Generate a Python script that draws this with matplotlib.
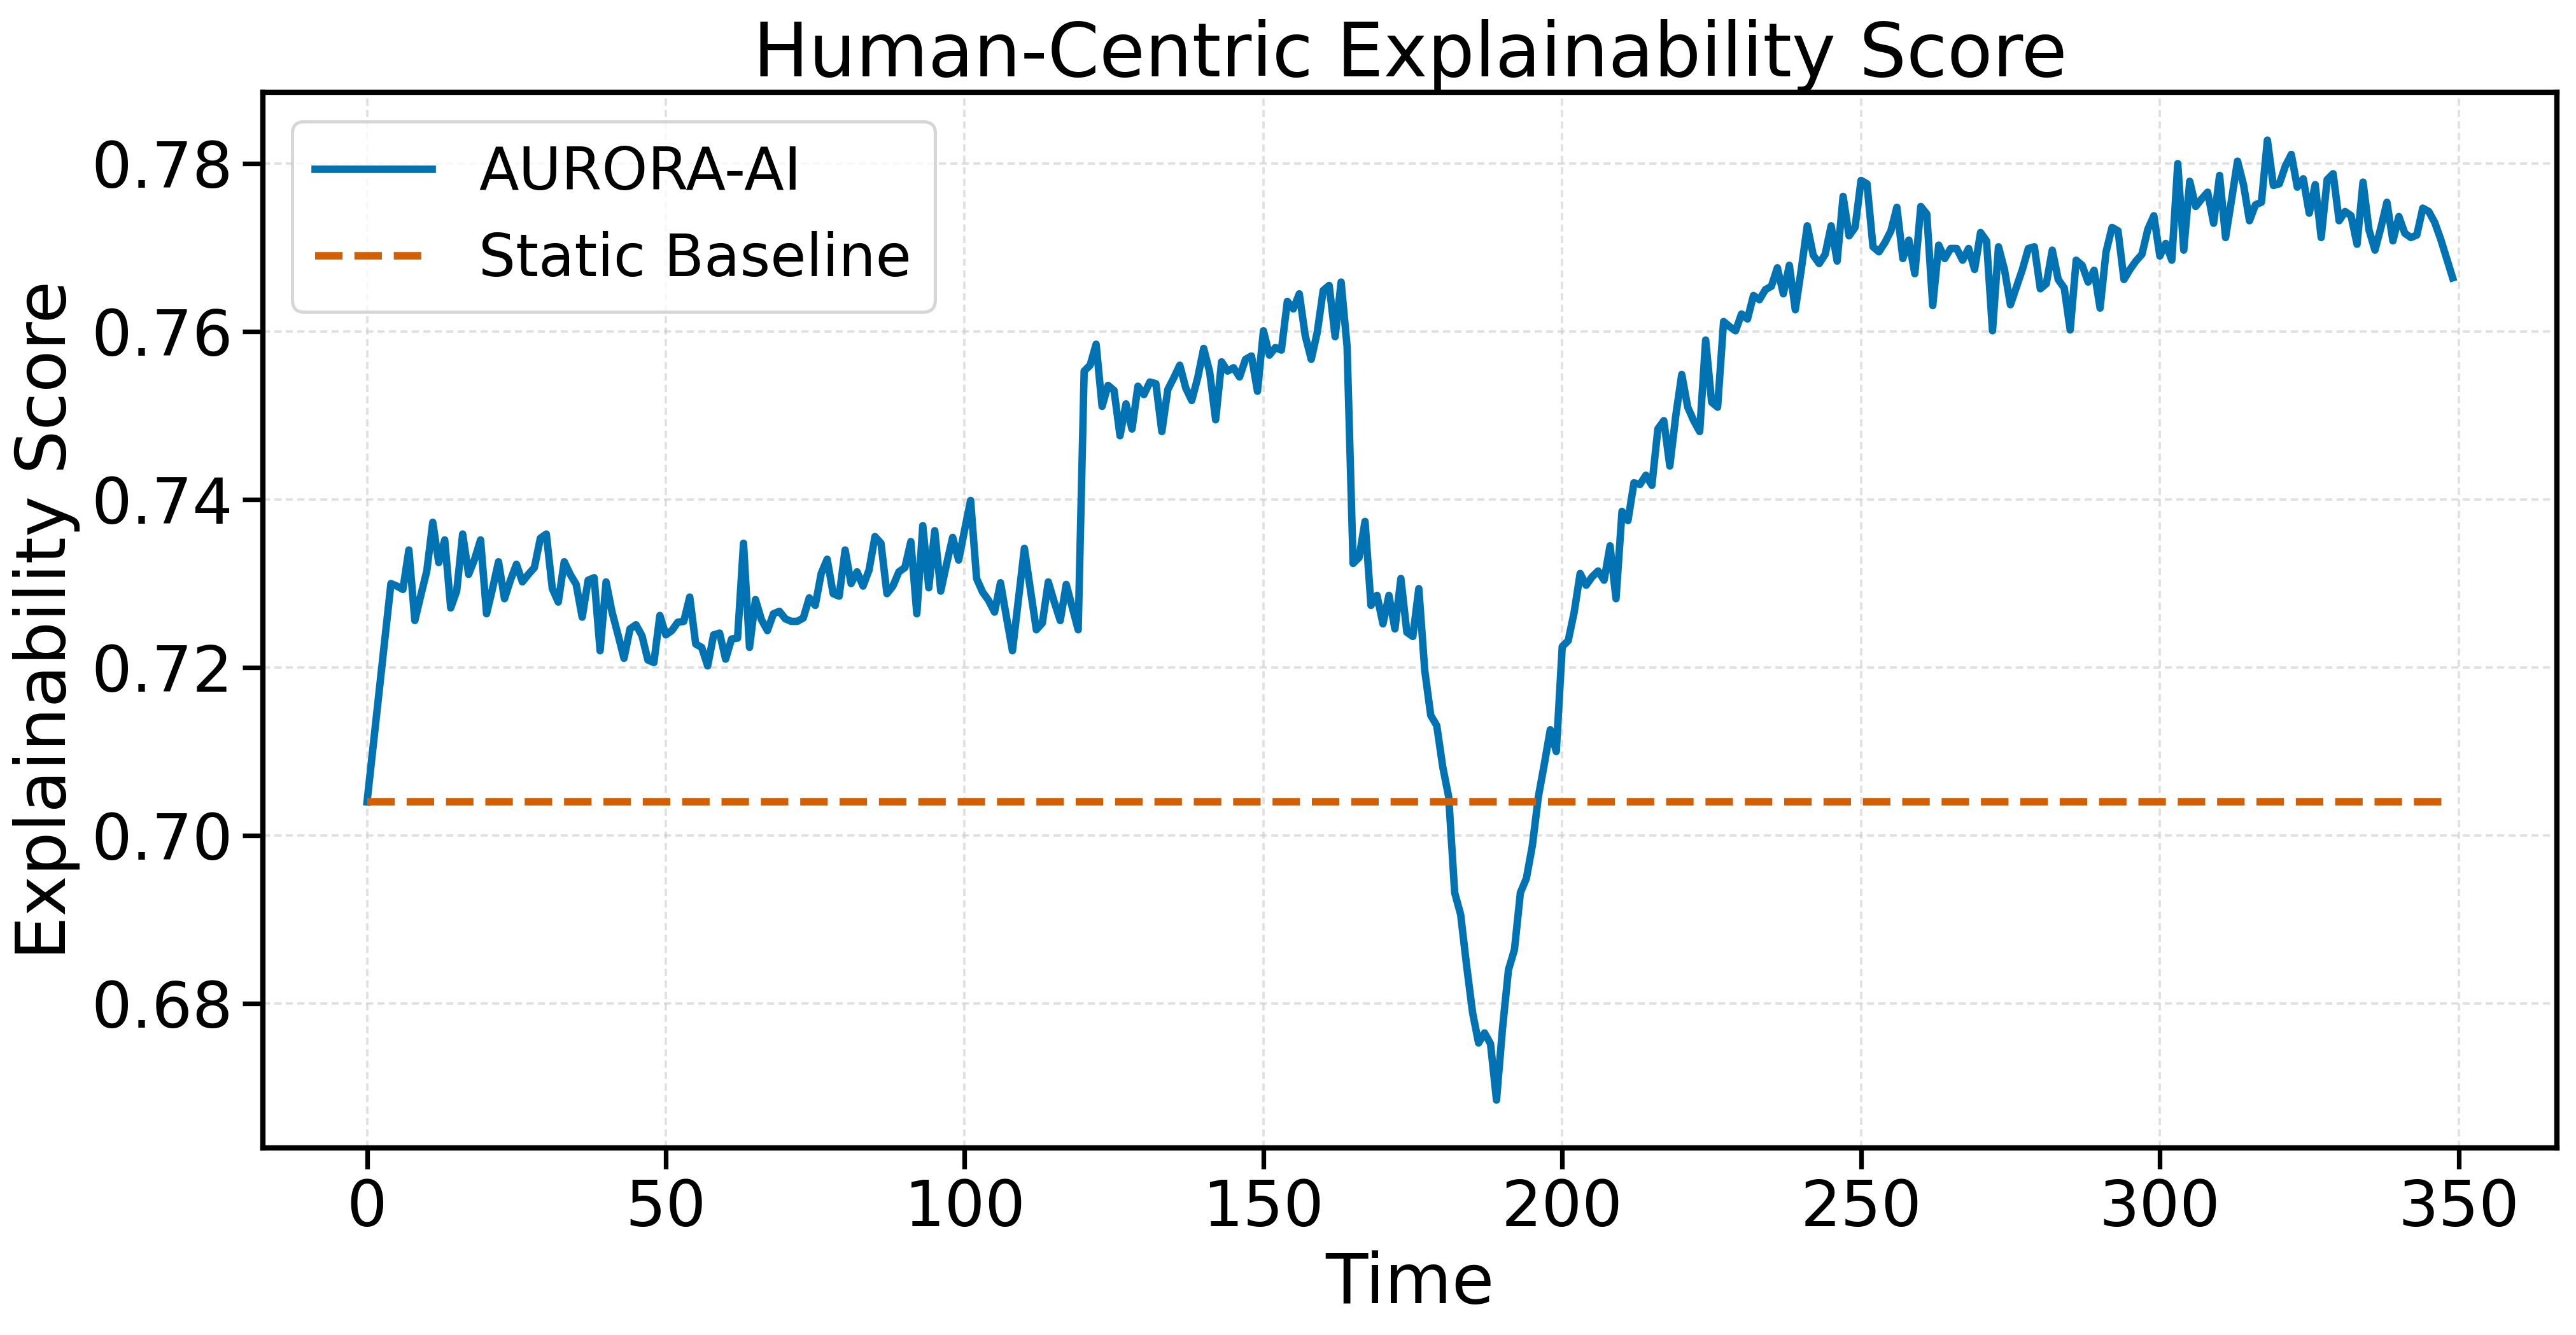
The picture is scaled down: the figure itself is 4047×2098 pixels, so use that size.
import numpy as np
import matplotlib
matplotlib.use("Agg")
import matplotlib.pyplot as plt

# values, one per time step (t = 0..349)
aurora_0_59 = [
    0.7040, 0.7105, 0.7170, 0.7235, 0.7300, 0.7297, 0.7293, 0.7340, 0.7256, 0.7286,
    0.7315, 0.7373, 0.7325, 0.7352, 0.7271, 0.7291, 0.7359, 0.7311, 0.7329, 0.7352,
    0.7264, 0.7294, 0.7326, 0.7282, 0.7304, 0.7323, 0.7302, 0.7311, 0.7319, 0.7354,
    0.7359, 0.7294, 0.7278, 0.7326, 0.7311, 0.7299, 0.7260, 0.7304, 0.7307, 0.7220,
    0.7302, 0.7266, 0.7239, 0.7211, 0.7246, 0.7251, 0.7238, 0.7209, 0.7206, 0.7262,
    0.7239, 0.7244, 0.7254, 0.7255, 0.7284, 0.7228, 0.7224, 0.7202, 0.7239, 0.7241,
]
aurora_60_119 = [
    0.7210, 0.7234, 0.7235, 0.7348, 0.7224, 0.7281, 0.7257, 0.7244, 0.7264, 0.7267,
    0.7258, 0.7255, 0.7255, 0.7259, 0.7283, 0.7274, 0.7312, 0.7329, 0.7288, 0.7285,
    0.7340, 0.7300, 0.7314, 0.7297, 0.7316, 0.7356, 0.7348, 0.7288, 0.7297, 0.7314,
    0.7319, 0.7350, 0.7264, 0.7369, 0.7295, 0.7363, 0.7291, 0.7324, 0.7355, 0.7328,
    0.7364, 0.7399, 0.7306, 0.7290, 0.7280, 0.7266, 0.7301, 0.7260, 0.7220, 0.7281,
    0.7342, 0.7293, 0.7245, 0.7253, 0.7302, 0.7278, 0.7256, 0.7299, 0.7272, 0.7245,
]
aurora_120_179 = [
    0.7553, 0.7560, 0.7585, 0.7511, 0.7536, 0.7530, 0.7476, 0.7514, 0.7484, 0.7535,
    0.7525, 0.7540, 0.7538, 0.7481, 0.7531, 0.7545, 0.7560, 0.7533, 0.7518, 0.7545,
    0.7580, 0.7552, 0.7495, 0.7564, 0.7553, 0.7557, 0.7546, 0.7567, 0.7571, 0.7529,
    0.7601, 0.7572, 0.7581, 0.7578, 0.7636, 0.7627, 0.7645, 0.7595, 0.7567, 0.7599,
    0.7649, 0.7655, 0.7594, 0.7659, 0.7582, 0.7324, 0.7331, 0.7374, 0.7274, 0.7286,
    0.7252, 0.7286, 0.7246, 0.7306, 0.7242, 0.7237, 0.7294, 0.7196, 0.7143, 0.7131,
]
aurora_180_239 = [
    0.7082, 0.7046, 0.6932, 0.6906, 0.6845, 0.6789, 0.6753, 0.6765, 0.6752, 0.6685,
    0.6770, 0.6840, 0.6864, 0.6932, 0.6949, 0.6988, 0.7046, 0.7085, 0.7126, 0.7100,
    0.7225, 0.7232, 0.7266, 0.7312, 0.7298, 0.7308, 0.7315, 0.7304, 0.7345, 0.7282,
    0.7386, 0.7375, 0.7420, 0.7418, 0.7429, 0.7417, 0.7484, 0.7494, 0.7440, 0.7500,
    0.7549, 0.7510, 0.7494, 0.7481, 0.7590, 0.7516, 0.7510, 0.7612, 0.7606, 0.7601,
    0.7621, 0.7615, 0.7643, 0.7638, 0.7650, 0.7654, 0.7676, 0.7645, 0.7679, 0.7626,
]
aurora_240_299 = [
    0.7674, 0.7726, 0.7691, 0.7681, 0.7692, 0.7726, 0.7684, 0.7761, 0.7714, 0.7724,
    0.7780, 0.7776, 0.7701, 0.7695, 0.7706, 0.7720, 0.7748, 0.7687, 0.7709, 0.7669,
    0.7749, 0.7740, 0.7631, 0.7703, 0.7687, 0.7699, 0.7699, 0.7685, 0.7699, 0.7674,
    0.7718, 0.7708, 0.7601, 0.7701, 0.7674, 0.7632, 0.7653, 0.7674, 0.7699, 0.7701,
    0.7651, 0.7657, 0.7697, 0.7662, 0.7652, 0.7602, 0.7685, 0.7679, 0.7659, 0.7673,
    0.7628, 0.7695, 0.7724, 0.7720, 0.7662, 0.7674, 0.7684, 0.7692, 0.7722, 0.7738,
]
aurora_300_349 = [
    0.7690, 0.7705, 0.7685, 0.7800, 0.7697, 0.7779, 0.7749, 0.7758, 0.7766, 0.7729,
    0.7786, 0.7712, 0.7757, 0.7803, 0.7775, 0.7732, 0.7751, 0.7754, 0.7828, 0.7774,
    0.7776, 0.7797, 0.7811, 0.7772, 0.7782, 0.7741, 0.7775, 0.7712, 0.7781, 0.7788,
    0.7732, 0.7743, 0.7738, 0.7704, 0.7778, 0.7721, 0.7697, 0.7724, 0.7754, 0.7708,
    0.7737, 0.7717, 0.7712, 0.7715, 0.7747, 0.7743, 0.7730, 0.7710, 0.7687, 0.7664,
]
baseline_value = 0.7040

aurora = np.array(aurora_0_59 + aurora_60_119 + aurora_120_179
                  + aurora_180_239 + aurora_240_299 + aurora_300_349)
time = np.arange(len(aurora))
baseline = np.full(len(aurora), baseline_value)

plt.rcParams["font.family"] = ["DejaVu Sans"]

fig, ax = plt.subplots(figsize=(4047 / 300, 2098 / 300), dpi=300)
fig.subplots_adjust(left=0.102, right=0.9926, top=0.931, bottom=0.140)

ax.plot(time, aurora, color="#0173B2", linewidth=2.8, label="AURORA-AI")
ax.plot(time, baseline, color="#D55E00", linewidth=2.8, linestyle="--", label="Static Baseline")

ax.set_title("Human-Centric Explainability Score", fontsize=28)
ax.set_xlabel("Time", fontsize=26)
ax.set_ylabel("Explainability Score", fontsize=26)
ax.tick_params(axis="both", labelsize=24, length=7.8, width=1.75)
ax.grid(True, linestyle=(0, (3, 1.8)), color="#cccccc", linewidth=0.9, alpha=0.6)
for spine in ax.spines.values():
    spine.set_linewidth(2.0)

leg = ax.legend(loc="upper left", fontsize=22, frameon=True, fancybox=True)
leg.get_frame().set_edgecolor("#cccccc")
leg.get_frame().set_linewidth(1.2)

fig.savefig("out.png", dpi=300)
